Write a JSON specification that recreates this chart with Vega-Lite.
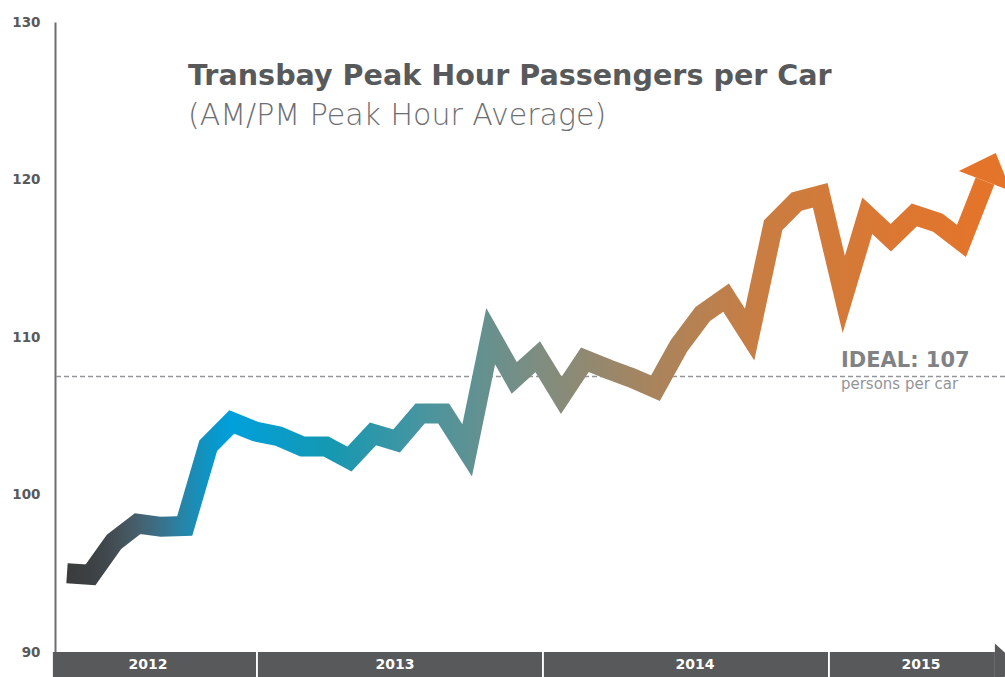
{
  "$schema": "https://vega.github.io/schema/vega-lite/v6.json",
  "width": 950,
  "height": 630,
  "autosize": {"type": "none"},
  "padding": {"left": 55, "top": 22, "right": 0, "bottom": 25},
  "background": "white",
  "config": {"view": {"stroke": null}},
  "datasets": {
    "riders": [
      {"period": 1, "month": "2012-05", "value": 95.0},
      {"period": 2, "month": "2012-06", "value": 94.9},
      {"period": 3, "month": "2012-07", "value": 97.0},
      {"period": 4, "month": "2012-08", "value": 98.15},
      {"period": 5, "month": "2012-09", "value": 97.95},
      {"period": 6, "month": "2012-10", "value": 98.0},
      {"period": 7, "month": "2012-11", "value": 103.1},
      {"period": 8, "month": "2012-12", "value": 104.6},
      {"period": 9, "month": "2013-01", "value": 104.0},
      {"period": 10, "month": "2013-02", "value": 103.7},
      {"period": 11, "month": "2013-03", "value": 103.05},
      {"period": 12, "month": "2013-04", "value": 103.05},
      {"period": 13, "month": "2013-05", "value": 102.25},
      {"period": 14, "month": "2013-06", "value": 103.85},
      {"period": 15, "month": "2013-07", "value": 103.4},
      {"period": 16, "month": "2013-08", "value": 105.15},
      {"period": 17, "month": "2013-09", "value": 105.15},
      {"period": 18, "month": "2013-10", "value": 102.8},
      {"period": 19, "month": "2013-11", "value": 110.05},
      {"period": 20, "month": "2013-12", "value": 107.4},
      {"period": 21, "month": "2014-01", "value": 108.75},
      {"period": 22, "month": "2014-02", "value": 106.3},
      {"period": 23, "month": "2014-03", "value": 108.55},
      {"period": 24, "month": "2014-04", "value": 107.95},
      {"period": 25, "month": "2014-05", "value": 107.4},
      {"period": 26, "month": "2014-06", "value": 106.75},
      {"period": 27, "month": "2014-07", "value": 109.45},
      {"period": 28, "month": "2014-08", "value": 111.45},
      {"period": 29, "month": "2014-09", "value": 112.5},
      {"period": 30, "month": "2014-10", "value": 110.15},
      {"period": 31, "month": "2014-11", "value": 117.1},
      {"period": 32, "month": "2014-12", "value": 118.6},
      {"period": 33, "month": "2015-01", "value": 119.0},
      {"period": 34, "month": "2015-02", "value": 112.7},
      {"period": 35, "month": "2015-03", "value": 117.7},
      {"period": 36, "month": "2015-04", "value": 116.3},
      {"period": 37, "month": "2015-05", "value": 117.75},
      {"period": 38, "month": "2015-06", "value": 117.25},
      {"period": 39, "month": "2015-07", "value": 116.1},
      {"period": 40, "month": "2015-08", "value": 119.9}
    ],
    "years": [
      {"year": "2012", "start": 0.4, "end": 9.03, "mid": 4.44},
      {"year": "2013", "start": 9.11, "end": 21.18, "mid": 14.93},
      {"year": "2014", "start": 21.26, "end": 33.33, "mid": 27.68},
      {"year": "2015", "start": 33.41, "end": 40.42, "mid": 37.28}
    ],
    "ideal": [
      {"label": "IDEAL: 107", "note": "persons per car", "target": 107.5, "pos": 33.88}
    ]
  },
  "layer": [
    {
      "data": {"name": "ideal"},
      "mark": {"type": "rule", "color": "#939598", "strokeWidth": 1.5, "strokeDash": [5, 3]},
      "encoding": {"y": {"field": "target", "type": "quantitative", "scale": {"domain": [90, 130], "nice": false, "zero": false}, "axis": {"values": [90, 100, 110, 120, 130], "ticks": false, "grid": false, "domainColor": "#6d6e71", "domainWidth": 2, "labelFont": "DejaVu Sans", "labelFontWeight": "bold", "labelFontSize": 13.5, "labelColor": "#58595b", "labelPadding": 15, "title": null}}}
    },
    {
      "data": {"name": "riders"},
      "mark": {
        "type": "line",
        "strokeWidth": 20,
        "strokeJoin": "miter",
        "strokeMiterLimit": 30,
        "strokeCap": "butt",
        "stroke": {
          "gradient": "linear",
          "x1": 0, "y1": 0, "x2": 1, "y2": 0,
          "stops": [
            {"offset": 0, "color": "#3b3b3b"},
            {"offset": 0.03, "color": "#3d4245"},
            {"offset": 0.05, "color": "#434c52"},
            {"offset": 0.076, "color": "#465f6c"},
            {"offset": 0.1, "color": "#3a7088"},
            {"offset": 0.129, "color": "#2487ab"},
            {"offset": 0.16, "color": "#0898cc"},
            {"offset": 0.18, "color": "#00a0dc"},
            {"offset": 0.286, "color": "#1598b2"},
            {"offset": 0.385, "color": "#4795a0"},
            {"offset": 0.515, "color": "#7f8d80"},
            {"offset": 0.635, "color": "#a8845e"},
            {"offset": 0.755, "color": "#c97d42"},
            {"offset": 0.907, "color": "#dc7731"},
            {"offset": 1, "color": "#e4742a"}
          ]
        }
      },
      "encoding": {
        "x": {"field": "period", "type": "quantitative", "scale": {"domain": [0.49, 40.85], "nice": false, "zero": false}, "axis": null},
        "y": {"field": "value", "type": "quantitative"}
      }
    },
    {
      "data": {"name": "riders"},
      "transform": [{"filter": "datum.period == 40"}],
      "mark": {"type": "point", "shape": "M-1,0L0,-1.07L1,0Z", "size": 3136, "angle": 21, "filled": true, "opacity": 1, "color": "#e4742a", "strokeWidth": 0},
      "encoding": {
        "x": {"field": "period", "type": "quantitative"},
        "y": {"field": "value", "type": "quantitative"}
      }
    },
    {
      "data": {"name": "years"},
      "mark": {"type": "rect", "color": "#58595b"},
      "encoding": {
        "x": {"field": "start", "type": "quantitative"},
        "x2": {"field": "end"},
        "y": {"datum": 88.41},
        "y2": {"datum": 90}
      }
    },
    {
      "data": {"values": [{"tip": "end"}]},
      "mark": {"type": "point", "shape": "M0,-1L1.1,0L0,1Z", "size": 1764, "filled": true, "opacity": 1, "color": "#58595b", "strokeWidth": 0},
      "encoding": {
        "x": {"datum": 40.42},
        "y": {"datum": 89.2}
      }
    },
    {
      "data": {"name": "years"},
      "mark": {"type": "text", "color": "white", "font": "DejaVu Sans", "fontWeight": "bold", "fontSize": 14, "baseline": "middle", "align": "center"},
      "encoding": {
        "x": {"field": "mid", "type": "quantitative"},
        "y": {"datum": 89.2},
        "text": {"field": "year"}
      }
    },
    {
      "data": {"name": "ideal"},
      "mark": {"type": "text", "color": "#808285", "font": "DejaVu Sans", "fontWeight": "bold", "fontSize": 21, "baseline": "alphabetic", "align": "left"},
      "encoding": {
        "x": {"field": "pos", "type": "quantitative"},
        "y": {"datum": 108.1},
        "text": {"field": "label"}
      }
    },
    {
      "data": {"name": "ideal"},
      "mark": {"type": "text", "color": "#939598", "font": "DejaVu Sans", "fontSize": 15, "baseline": "alphabetic", "align": "left"},
      "encoding": {
        "x": {"field": "pos", "type": "quantitative"},
        "y": {"datum": 106.7},
        "text": {"field": "note"}
      }
    },
    {
      "data": {"values": [{"heading": "Transbay Peak Hour Passengers per Car"}]},
      "mark": {"type": "text", "color": "#58595b", "font": "DejaVu Sans", "fontWeight": "bold", "fontSize": 28.6, "baseline": "alphabetic", "align": "left"},
      "encoding": {
        "x": {"datum": 6.14},
        "y": {"datum": 126.0},
        "text": {"field": "heading"}
      }
    },
    {
      "data": {"values": [{"heading": "(AM/PM Peak Hour Average)"}]},
      "mark": {"type": "text", "color": "#6d6e71", "font": "DejaVu Sans", "fontWeight": 200, "fontSize": 30, "baseline": "alphabetic", "align": "left"},
      "encoding": {
        "x": {"datum": 6.14},
        "y": {"datum": 123.46},
        "text": {"field": "heading"}
      }
    }
  ]
}
